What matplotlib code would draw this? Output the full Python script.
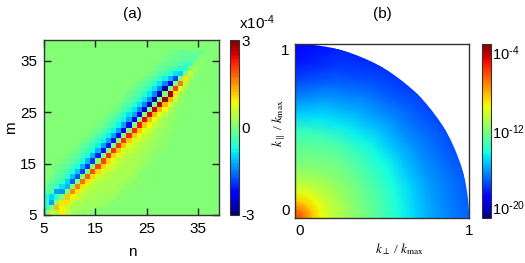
import numpy as np
import matplotlib
matplotlib.use('Agg')
import matplotlib.pyplot as plt
from matplotlib.patches import Circle
from matplotlib.colors import Normalize
from matplotlib.cm import ScalarMappable

plt.rcParams['font.family'] = ['Liberation Sans', 'DejaVu Sans']
plt.rcParams['mathtext.default'] = 'regular'
plt.rcParams['axes.unicode_minus'] = False

# ---- panel (a): values along the diagonals, column by column (units of 1e-4)
above_1 = [-0.6,-1.3,-0.5,-1.4,-1.2,-1.6,-1.7,-1.8,-1.9,-1.9,-2.0,-2.1,-2.1,-2.1,-2.2,-2.2,-2.2,
           -2.3,-2.4,-2.5,-2.6,-2.7,-2.8,-2.8,-2.4,-1.8,-1.0,-0.6,-0.4,-0.2,-0.1,0,0,0]
above_2 = [-0.5,-1.0,-1.3,-0.9,-1.0,-1.1,-1.1,-1.2,-1.2,-1.2,-1.2,-1.3,-1.3,-1.3,-1.3,-1.3,-1.3,
           -1.3,-1.5,-1.5,-1.5,-1.5,-1.5,-1.5,-1.2,-0.9,-0.6,-0.4,-0.2,-0.1,0,0,0,0]
above_3 = [-0.7,-0.3,-0.4,-0.5,-0.6,-0.7,-0.7,-0.7,-0.7,-0.7,-0.8,-0.8,-0.8,-0.8,-0.8,-0.8,-0.9,
           -0.9,-0.9,-0.9,-0.9,-0.9,-0.9,-0.8,-0.6,-0.4,-0.3,-0.2,-0.1,0,0,0,0,0]
above_4 = [-0.2,-0.3,-0.3,-0.3,-0.4,-0.4,-0.4,-0.4,-0.4,-0.5,-0.5,-0.5,-0.5,-0.5,-0.5,-0.6,-0.6,
           -0.6,-0.6,-0.6,-0.6,-0.6,-0.5,-0.4,-0.3,-0.2,-0.1,-0.1,0,0,0,0,0,0]
above_5 = [-0.1,-0.1,-0.2,-0.2,-0.2,-0.2,-0.2,-0.3,-0.3,-0.3,-0.3,-0.3,-0.3,-0.3,-0.3,-0.3,-0.35,
           -0.35,-0.35,-0.35,-0.35,-0.3,-0.3,-0.2,-0.15,-0.1,-0.1,0,0,0,0,0,0,0]
above_6 = [-0.05,-0.05,-0.1,-0.1,-0.1,-0.1,-0.1,-0.15,-0.15,-0.15,-0.15,-0.15,-0.15,-0.15,-0.15,-0.2,-0.2,
           -0.2,-0.2,-0.2,-0.15,-0.15,-0.1,-0.1,-0.1,-0.05,0,0,0,0,0,0,0,0]
above_7 = [0,0,-0.05,-0.05,-0.05,-0.05,-0.05,-0.05,-0.05,-0.05,-0.08,-0.08,-0.08,-0.08,-0.08,-0.08,-0.1,
           -0.1,-0.1,-0.1,-0.08,-0.05,-0.05,-0.05,-0.05,0,0,0,0,0,0,0,0,0]
below_1 = [0,0.5,1.3,1.0,1.2,1.5,1.6,1.7,1.8,1.9,2.0,2.0,2.1,2.1,2.1,2.1,2.2,
           2.2,2.3,2.4,2.5,2.6,2.7,2.8,2.8,2.0,1.6,1.0,0.5,0.3,0.15,0.05,0,0]
below_2 = [0,0,0.3,0.9,1.0,0.9,1.0,1.0,1.0,1.1,1.1,1.1,1.1,1.1,1.2,1.2,1.2,
           1.2,1.2,1.2,1.3,1.3,1.3,1.3,1.3,1.0,0.7,0.4,0.3,0.15,0.05,0,0,0]
below_3 = [0,0,0,0.9,0.5,0.5,0.6,0.6,0.6,0.6,0.6,0.6,0.7,0.7,0.7,0.7,0.7,
           0.7,0.8,0.8,0.8,0.8,0.8,0.8,0.7,0.5,0.3,0.2,0.1,0.05,0,0,0,0]
below_4 = [0,0,0,0,0.5,0.35,0.35,0.4,0.4,0.45,0.45,0.45,0.5,0.5,0.5,0.5,0.5,
           0.5,0.5,0.5,0.5,0.5,0.45,0.4,0.3,0.2,0.15,0.1,0.05,0,0,0,0,0]
below_5 = [0,0,0,0,0,0.3,0.3,0.3,0.3,0.35,0.35,0.35,0.4,0.4,0.4,0.4,0.4,
           0.4,0.4,0.4,0.4,0.35,0.3,0.25,0.2,0.15,0.1,0.05,0,0,0,0,0,0]
below_6 = [0,0,0,0,0,0,0.15,0.2,0.25,0.3,0.3,0.3,0.35,0.35,0.35,0.35,0.35,
           0.35,0.35,0.3,0.3,0.25,0.2,0.2,0.15,0.1,0.05,0.05,0,0,0,0,0,0]
below_8 = [0,0,0,0,0,0,0,0,0.1,0.2,0.2,0.25,0.25,0.3,0.3,0.3,0.3,
           0.3,0.25,0.25,0.2,0.2,0.15,0.15,0.1,0.05,0.05,0,0,0,0,0,0,0]
below_7 = [0,0,0,0,0,0,0,0.1,0.2,0.25,0.25,0.3,0.3,0.3,0.3,0.3,0.3,
           0.3,0.3,0.3,0.25,0.2,0.2,0.15,0.1,0.1,0.05,0,0,0,0,0,0,0]
below_10 = [0,0,0,0,0,0,0,0,0,0,0.05,0.1,0.15,0.2,0.2,0.2,0.2,
            0.2,0.15,0.15,0.15,0.1,0.1,0.1,0.05,0.05,0,0,0,0,0,0,0,0]
below_9 = [0,0,0,0,0,0,0,0,0,0.05,0.15,0.2,0.2,0.25,0.25,0.25,0.25,
           0.2,0.2,0.2,0.15,0.15,0.1,0.1,0.05,0.05,0,0,0,0,0,0,0,0]
below_12 = [0,0,0,0,0,0,0,0,0,0,0,0,0,0.05,0.1,0.1,0.1,
            0.1,0.1,0.1,0.05,0.05,0.05,0.05,0,0,0,0,0,0,0,0,0,0]
n_edges = list(range(5, 40))
a_ticks = [5, 15, 25, 35]
a_cbar_ticks = [-3, 0, 3]

# ---- panel (b): log10 of the spectrum, rows = k / kmax, columns = angle from k_perp
b_radius = [0, 0.05, 0.1, 0.15, 0.2, 0.3, 0.4, 0.5, 0.6, 0.7, 0.8, 0.9, 1.0, 1.04]
b_angle = [0, 15, 30, 45, 60, 75, 90]
b_log = [
    [-6.7, -6.7, -6.7, -6.7, -6.7, -6.7, -6.7],
    [-7.4, -7.4, -7.4, -7.4, -7.4, -7.5, -7.5],
    [-8.7, -8.7, -8.8, -8.9, -8.9, -9.0, -9.0],
    [-9.8, -9.8, -9.8, -9.9, -9.9, -10.0, -10.0],
    [-10.5, -10.5, -10.6, -10.6, -10.7, -10.8, -10.8],
    [-11.4, -11.4, -11.5, -11.6, -11.7, -11.8, -11.9],
    [-12.1, -12.2, -12.2, -12.3, -12.3, -12.4, -12.5],
    [-13.0, -13.0, -13.1, -13.1, -13.1, -13.2, -13.3],
    [-13.9, -13.9, -14.0, -14.1, -14.3, -14.5, -14.8],
    [-14.7, -14.8, -14.9, -15.0, -15.2, -15.5, -16.0],
    [-15.5, -15.6, -15.7, -15.8, -16.0, -16.4, -17.0],
    [-16.0, -16.1, -16.3, -16.5, -16.7, -17.1, -17.7],
    [-16.4, -16.6, -16.8, -17.0, -17.2, -17.5, -18.0],
    [-16.4, -16.6, -16.8, -17.0, -17.2, -17.5, -18.0],
]
b_cbar_ticks = [-20, -12, -4]
b_cbar_labels = [r'$10^{\text{-}20}$', r'$10^{\text{-}12}$', r'$10^{\text{-}4}$']

diagonals = {-1: above_1, -2: above_2, -3: above_3, -4: above_4, -5: above_5, -6: above_6, -7: above_7,
             1: below_1, 2: below_2, 3: below_3, 4: below_4, 5: below_5, 6: below_6, 7: below_7,
             8: below_8, 9: below_9, 10: below_10, 12: below_12}

W, H = 525, 263
fig = plt.figure(figsize=(W / 100, H / 100), dpi=100)


def box(x0, y0, x1, y1):
    return [x0 / W, 1 - y1 / H, (x1 - x0) / W, (y1 - y0) / H]


EDGE = '#333333'
FS = 11
cmap = plt.get_cmap('jet', 64)

# panel (a)
field = np.zeros((34, 34))
for d, vals in diagonals.items():
    for c, v in enumerate(vals):
        r = c - d
        if 0 <= r < 34:
            field[r, c] = v

ax = fig.add_axes(box(44, 40, 219, 215))
norm_a = Normalize(-3, 3)
ax.pcolormesh(n_edges, n_edges, field, cmap=cmap, norm=norm_a)
ax.set_xticks(a_ticks)
ax.set_yticks(a_ticks)
ax.tick_params(direction='in', length=5, width=1, top=True, right=True, color='#222222',
               labelsize=FS, pad=5)
for s in ax.spines.values():
    s.set_color(EDGE)
    s.set_linewidth(1)
fig.text(132 / W, 1 - 252 / H, 'n', fontsize=FS, ha='center', va='center')
fig.text(11 / W, 1 - 128 / H, 'm', fontsize=FS, ha='center', va='center', rotation=90)
fig.text(132 / W, 1 - 14 / H, '(a)', fontsize=FS, ha='center', va='center')

cax = fig.add_axes(box(230, 40, 239, 215))
cb = fig.colorbar(ScalarMappable(norm_a, cmap), cax=cax, ticks=a_cbar_ticks)
cb.ax.tick_params(length=0, labelsize=FS, pad=2)
cb.outline.set_edgecolor(EDGE)
fig.text(239 / W, 1 - 23 / H, r'x$10^{\text{-}4}$', fontsize=FS, ha='left', va='center')

# panel (b)
ax2 = fig.add_axes(box(295, 44, 469, 218))
R, T = np.meshgrid(b_radius, np.deg2rad(b_angle), indexing='ij')
norm_b = Normalize(-20, -4)
mesh = ax2.pcolormesh(R * np.cos(T), R * np.sin(T), np.array(b_log), cmap='jet', norm=norm_b,
                      shading='gouraud')
mesh.set_clip_path(Circle((0, 0), 1.0, transform=ax2.transData))
ax2.set_xlim(0, 1)
ax2.set_ylim(0, 1)
ax2.set_xticks([0, 1])
ax2.set_yticks([0, 1])
ax2.tick_params(length=0, labelsize=FS, pad=4)
ax2.get_yticklabels()[0].set_va('bottom')
ax2.get_yticklabels()[1].set_va('top')
ax2.get_xticklabels()[0].set_ha('left')
for s in ax2.spines.values():
    s.set_color(EDGE)
    s.set_linewidth(1)
serif = ['Liberation Serif', 'DejaVu Serif']
fig.text(400 / W, 1 - 249 / H, r'$\mathit{k}_{\perp}$ / $\mathit{k}_{\mathrm{max}}$', fontsize=9.5,
         family=serif, ha='center', va='center', math_fontfamily='stix')
fig.text(279 / W, 1 - 123 / H, r'$\mathit{k}_{\parallel}$ / $\mathit{k}_{\mathrm{max}}$', fontsize=9.5,
         family=serif, ha='center', va='center', rotation=90, math_fontfamily='stix')
fig.text(382 / W, 1 - 14 / H, '(b)', fontsize=FS, ha='center', va='center')

cax2 = fig.add_axes(box(482, 44, 491, 218))
cb2 = fig.colorbar(ScalarMappable(norm_b, 'jet'), cax=cax2, ticks=b_cbar_ticks)
cb2.ax.set_yticklabels(b_cbar_labels)
cb2.ax.tick_params(length=0, labelsize=10.5, pad=1)
cb2.ax.get_yticklabels()[0].set_va('bottom')
cb2.ax.get_yticklabels()[2].set_va('top')
cb2.outline.set_edgecolor(EDGE)

fig.savefig('out.png', dpi=100)
